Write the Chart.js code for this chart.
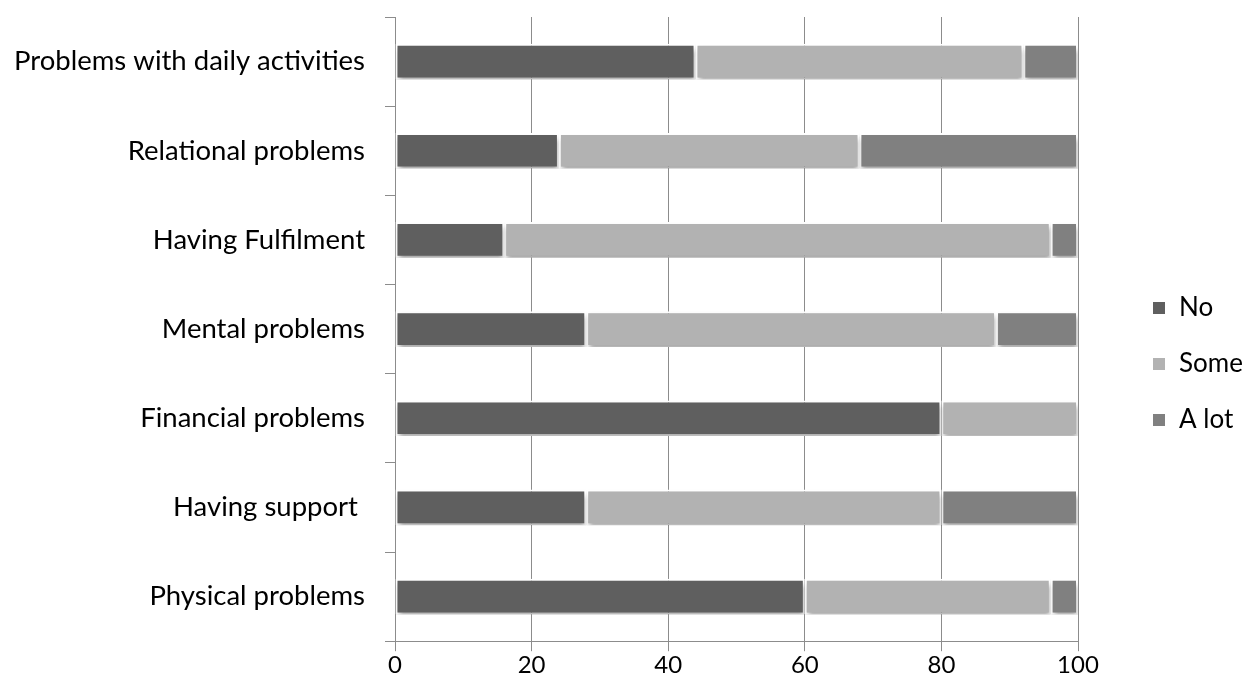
<!DOCTYPE html>
<html>
<head>
<meta charset="utf-8">
<script src="https://cdn.jsdelivr.net/npm/chart.js@4.4.1/dist/chart.umd.min.js"></script>
<style>
  html, body { margin: 0; padding: 0; background: #fff; }
  #wrap { width: 1243px; height: 700px; }
</style>
</head>
<body>
<div id="wrap"><canvas id="c" width="1243" height="700"></canvas></div>
<script>
const categories = [
  'Problems with daily activities',
  'Relational problems',
  'Having Fulfilment',
  'Mental problems',
  'Financial problems',
  'Having support ',
  'Physical problems'
];
const seriesNo    = [44, 24, 16, 28, 80, 28, 60];
const seriesSome  = [48, 44, 80, 60, 20, 52, 36];
const seriesALot  = [8, 32, 4, 12, 0, 20, 4];
const xTicks = [0, 20, 40, 60, 80, 100];

const FONT = 'Lato, "Open Sans", sans-serif';
const LEGEND_PAD = 30;

const shadowPlugin = {
  id: 'barShadow',
  beforeDatasetDraw(chart) {
    const ctx = chart.ctx;
    ctx.save();
    ctx.shadowColor = 'rgba(0,0,0,0.35)';
    ctx.shadowBlur = 5;
    ctx.shadowOffsetX = 1;
    ctx.shadowOffsetY = 4;
  },
  afterDatasetDraw(chart) {
    chart.ctx.restore();
  }
};

// keep the legend on the right at a fixed width/position like the original
const legendPlacer = {
  id: 'legendPlacer',
  beforeLayout(chart) {
    const lg = chart.legend;
    if (lg && !lg._fixedFit) {
      const orig = lg.fit;
      lg.fit = function () {
        orig.call(this);
        this.width = 1243 - 1078;
      };
      lg._fixedFit = true;
    }
  },
  afterLayout(chart) {
    const lg = chart.legend;
    if (!lg) return;
    const h = lg.bottom - lg.top;
    lg.left = 1152 - LEGEND_PAD;
    lg.top = 265;
    lg.bottom = lg.top + h;
  }
};

new Chart(document.getElementById('c'), {
  type: 'bar',
  data: {
    labels: categories,
    datasets: [
      { label: 'No',    data: seriesNo,   backgroundColor: '#5f5f5f' },
      { label: 'Some',  data: seriesSome, backgroundColor: '#b2b2b2' },
      { label: 'A lot', data: seriesALot, backgroundColor: '#808080' }
    ]
  },
  options: {
    indexAxis: 'y',
    responsive: false,
    animation: false,
    devicePixelRatio: 1,
    datasets: {
      bar: {
        borderColor: '#ffffff',
        borderWidth: 2,
        borderSkipped: false,
        barPercentage: 0.4,
        categoryPercentage: 1.0
      }
    },
    layout: { padding: { top: 17, bottom: 20, left: 0, right: 0 } },
    plugins: {
      legend: {
        position: 'right',
        align: 'start',
        labels: {
          font: { family: FONT, size: 26 },
          color: '#000',
          boxWidth: 14,
          boxHeight: 14,
          padding: LEGEND_PAD
        }
      },
      tooltip: { enabled: false }
    },
    scales: {
      x: {
        stacked: true,
        min: 0,
        max: 100,
        afterBuildTicks(scale) { scale.ticks = xTicks.map(v => ({ value: v })); },
        grid: {
          color: '#8c8c8c',
          lineWidth: 1,
          drawTicks: true,
          tickLength: 10,
          tickColor: '#8c8c8c'
        },
        border: { display: true, color: '#8c8c8c', width: 1 },
        ticks: {
          font: { family: FONT, size: 24 },
          color: '#000',
          padding: 0
        }
      },
      y: {
        stacked: true,
        afterFit(scale) {
          scale.width = 395;
          scale.paddingTop = 0;
          scale.paddingBottom = 0;
        },
        grid: {
          offset: true,
          drawOnChartArea: false,
          drawTicks: true,
          tickLength: 10,
          color: '#8c8c8c'
        },
        border: { display: true, color: '#8c8c8c', width: 1 },
        ticks: {
          font: { family: FONT, size: 27.5 },
          color: '#000',
          padding: 20
        }
      }
    }
  },
  plugins: [shadowPlugin, legendPlacer]
});
</script>
</body>
</html>
